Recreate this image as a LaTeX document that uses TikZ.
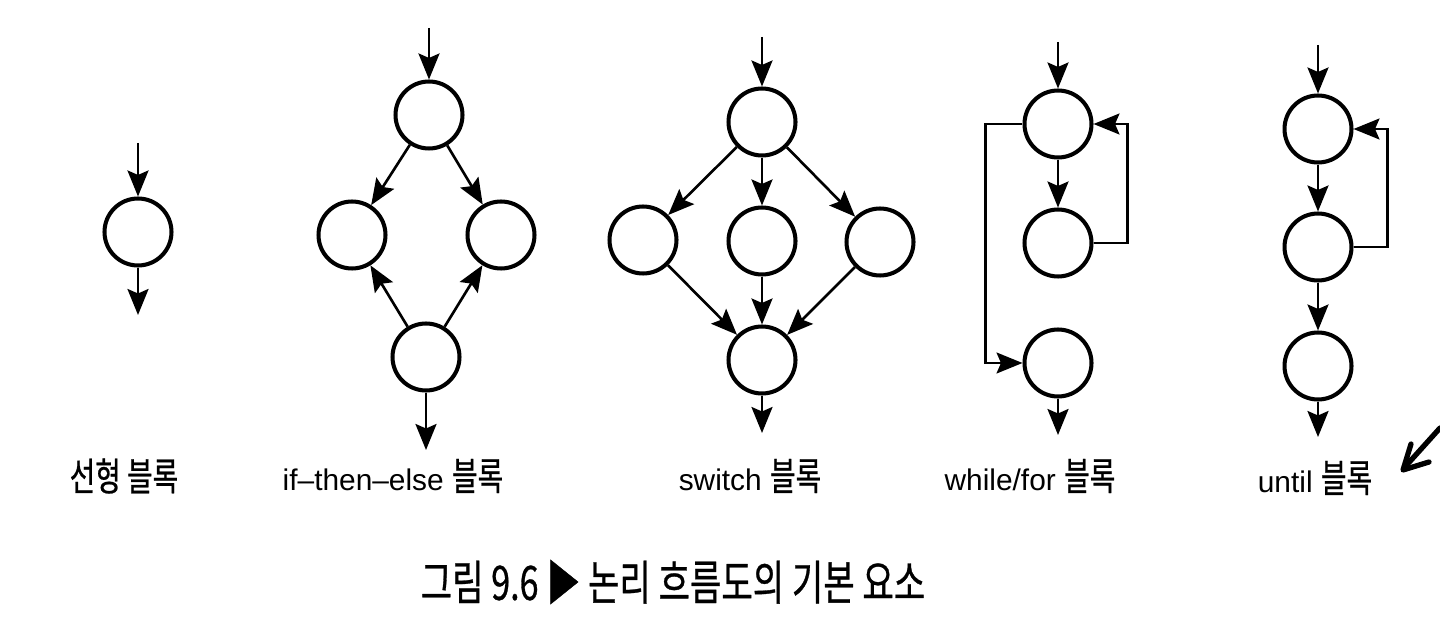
\documentclass[tikz,border=0pt]{standalone}
\usepackage{fontspec}
\setmainfont{Liberation Sans}
\newfontfamily\kfont[FakeStretch=0.72, FakeBold=0.6]{Noto Sans CJK KR}
\usepackage{tikz}
\usetikzlibrary{arrows.meta}
\newcommand{\hangul}[1]{{\kfont\fontsize{22}{24}\selectfont #1}}
\tikzset{
  blk/.style={circle, draw=black, line width=2.3pt, fill=white, minimum size=1.34cm, inner sep=0pt},
  flow/.style={draw=black, line width=1.5pt, -{Stealth[length=0.52cm, width=0.42cm, inset=0.09cm]}},
  loopline/.style={draw=black, line width=1.2pt, -{Stealth[length=0.52cm, width=0.42cm, inset=0.09cm]}},
  lbl/.style={text=black, font=\fontsize{17}{20}\selectfont, inner sep=0pt},
  capt/.style={text=black, font=\kfont\fontsize{27}{30}\selectfont, inner sep=0pt},
  pencil/.style={draw=black, line width=3pt, line cap=round, line join=round}
}

\begin{document}
\begin{tikzpicture}[x=0.02cm, y=-0.02cm]
  \useasboundingbox (0,0) rectangle (1440,624);

  % linear block
  \node[blk] (l1) at (138,232) {};
  \coordinate (l-in) at (138,143);
  \coordinate (l-out) at (138,315);
  \draw[flow] (l-in) -- (l1);
  \draw[flow] (l1) -- (l-out);
  \node[lbl] (l-lbl) at (124,476) {\hangul{선형 블록}};

  % if-then-else block
  \node[blk] (i1) at (429,115) {};
  \node[blk] (i2) at (352,235) {};
  \node[blk] (i3) at (501,235) {};
  \node[blk] (i4) at (426,357) {};
  \coordinate (i-in) at (429,28);
  \coordinate (i-out) at (426,450);
  \draw[flow] (i-in) -- (i1);
  \draw[flow] (i1) -- (i2);
  \draw[flow] (i1) -- (i3);
  \draw[flow] (i4) -- (i2);
  \draw[flow] (i4) -- (i3);
  \draw[flow] (i4) -- (i-out);
  \node[lbl] (i-lbl) at (393,476) {if--then--else \hangul{블록}};

  % switch block
  \node[blk] (s1) at (762,122) {};
  \node[blk] (s2) at (643,240) {};
  \node[blk] (s3) at (762,241) {};
  \node[blk] (s4) at (880,242) {};
  \node[blk] (s5) at (762,360) {};
  \coordinate (s-in) at (762,37);
  \coordinate (s-out) at (762,433);
  \draw[flow] (s-in) -- (s1);
  \foreach \n in {s2,s3,s4} {
    \draw[flow] (s1) -- (\n);
    \draw[flow] (\n) -- (s5);
  }
  \draw[flow] (s5) -- (s-out);
  \node[lbl] (s-lbl) at (750,476) {switch \hangul{블록}};

  % while/for block
  \node[blk] (w1) at (1058,124) {};
  \node[blk] (w2) at (1058,243) {};
  \node[blk] (w3) at (1058,363) {};
  \coordinate (w-in) at (1058,42);
  \coordinate (w-out) at (1058,435);
  \draw[flow] (w-in) -- (w1);
  \draw[flow] (w1) -- (w2);
  \draw[loopline] (w2.east) -- ++(34,0) |- (w1.east);
  \draw[loopline] (w1.west) -- ++(-37,0) |- (w3.west);
  \draw[flow] (w3) -- (w-out);
  \node[lbl] (w-lbl) at (1030,476) {while/for \hangul{블록}};

  % until block
  \node[blk] (u1) at (1318,129) {};
  \node[blk] (u2) at (1318,247) {};
  \node[blk] (u3) at (1318,366) {};
  \coordinate (u-in) at (1318,45);
  \coordinate (u-out) at (1318,437);
  \draw[flow] (u-in) -- (u1);
  \draw[flow] (u1) -- (u2);
  \draw[loopline] (u2.east) -- ++(34,0) |- (u1.east);
  \draw[flow] (u2) -- (u3);
  \draw[flow] (u3) -- (u-out);
  \node[lbl] (u-lbl) at (1315,478) {until \hangul{블록}};

  % pencil mark
  \draw[pencil] (1440,428) -- (1404,468);
  \draw[pencil] (1411,444) -- (1403,470) -- (1429,462);

  % caption
  \node[capt] (caption) at (673,582) {그림 9.6 ▶ 논리 흐름도의 기본 요소};
\end{tikzpicture}
\end{document}
